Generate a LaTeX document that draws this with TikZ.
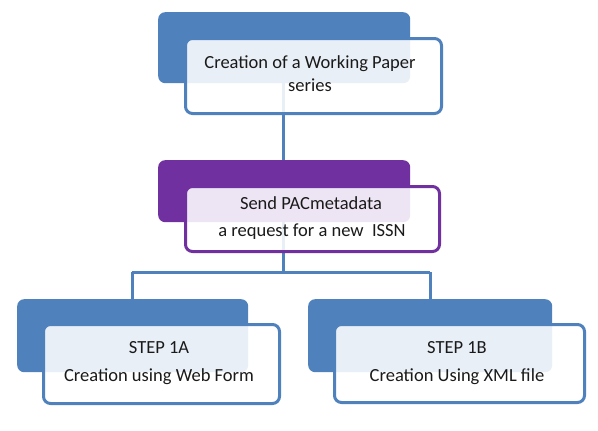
\documentclass[tikz,border=0pt]{standalone}
\usepackage{fontspec}
\setmainfont{Carlito}
\definecolor{bblue}{HTML}{4F81BD}
\definecolor{bpurple}{HTML}{7030A0}
\definecolor{txt}{HTML}{1A1A1A}
\begin{document}
\begin{tikzpicture}[x=1pt,y=-1pt,
  backbox/.style={rounded corners=7pt, minimum width=#1, inner sep=0pt, anchor=north west},
  frontbox/.style={rounded corners=7pt, line width=3pt, fill=white, fill opacity=0.88, text opacity=1, inner sep=0pt, anchor=north west},
  label/.style={text=txt, font=\fontsize{18.5}{22}\selectfont, align=center, inner sep=0pt},
  conn/.style={draw=bblue, line width=3pt}]
\useasboundingbox (0,0) rectangle (598,431);
% back boxes
\node[backbox=252pt, minimum height=71pt, fill=bblue] (b1) at (158,12) {};
\node[backbox=252pt, minimum height=62pt, fill=bpurple] (b2) at (158,160) {};
\node[backbox=231pt, minimum height=73pt, fill=bblue] (b3) at (17,299) {};
\node[backbox=244pt, minimum height=73pt, fill=bblue] (b4) at (308,299) {};
% connectors
\coordinate (j) at (283,272);
\coordinate (jl) at (132,272);
\coordinate (jr) at (430,272);
\draw[conn] (b1.south -| j) -- (b2.north -| j);
\draw[conn] (b2.south -| j) -- (j);
\draw[conn] (jl) -- (jr);
\draw[conn] (jl) -- (b3.north -| jl);
\draw[conn] (jr) -- (b4.north -| jr);
% front boxes
\node[frontbox, draw=bblue, minimum width=256pt, minimum height=75pt] (f1) at (184,37) {};
\node[frontbox, draw=bpurple, minimum width=254pt, minimum height=65pt] (f2) at (184,185) {};
\node[frontbox, draw=bblue, minimum width=236pt, minimum height=79pt] (f3) at (42,323) {};
\node[frontbox, draw=bblue, minimum width=250pt, minimum height=78pt] (f4) at (333,323) {};
% texts
\node[label] (t1a) at (310,64) {Creation of a Working Paper};
\node[label] (t1b) at (310,85) {series};
\node[label] (t2a) at (311,203) {Send PACmetadata};
\node[label] (t2b) at (312,232) {a request for a new\ \ ISSN};
\node[label] (t3a) at (159,348) {STEP 1A};
\node[label] (t3b) at (159,377) {Creation using Web Form};
\node[label] (t4a) at (457,348) {STEP 1B};
\node[label] (t4b) at (457,377) {Creation Using XML file};
\end{tikzpicture}
\end{document}
